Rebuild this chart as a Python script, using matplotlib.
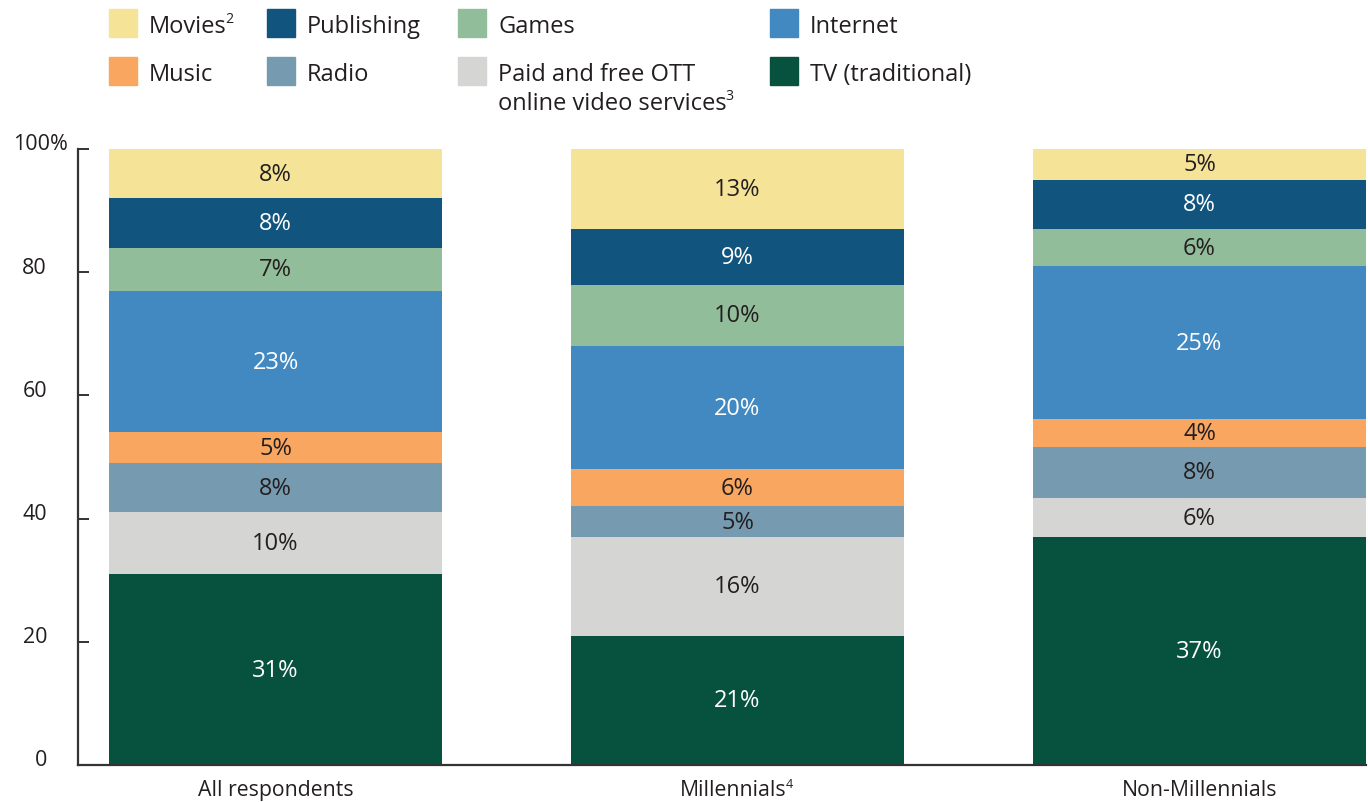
import matplotlib
matplotlib.use("Agg")
import matplotlib.pyplot as plt
from matplotlib.patches import Rectangle
import numpy as np

plt.rcParams['font.family'] = ['Open Sans', 'DejaVu Sans']

groups = ["All respondents", "Millennials", "Non-Millennials"]
group_notes = ["", "4", ""]
segments = ["TV (traditional)", "Paid and free OTT online video services", "Radio", "Music",
            "Internet", "Games", "Publishing", "Movies"]
tv = [31, 21, 37.0]
ott = [10, 16, 6.3]
radio = [8, 5, 8.4]
music = [5, 6, 4.4]
internet = [23, 20, 24.9]
games = [7, 10, 6.0]
publishing = [8, 9, 8.0]
movies = [8, 13, 5.0]
series = [tv, ott, radio, music, internet, games, publishing, movies]

colors = ["#07523F", "#D5D6D3", "#769BB0", "#F8A660", "#4189C0", "#92BD9A", "#11557F", "#F5E498"]
label_colors = ["white", "#231F20", "#231F20", "#231F20", "white", "#231F20", "white", "#231F20"]
dark = "#231F20"

W, H = 1368, 803
fig = plt.figure(figsize=(W / 100, H / 100), dpi=100)
ax = fig.add_axes([78 / W, 37 / H, (1366 - 78) / W, (766 - 150) / H])
renderer = fig.canvas.get_renderer()


def fy(py):
    return 1 - py / H


def text_with_sup(xp, yp, main, sup, size, ha='left'):
    t = fig.text(xp / W, fy(yp), main, ha=ha, va='center', fontsize=size, color=dark)
    if sup:
        bb = t.get_window_extent(renderer=renderer)
        fig.text((bb.x1 - 1.5) / W, fy(yp) + size * 0.42 / H, sup, ha='left', va='center',
                 fontsize=size * 0.6, color=dark)
    return t


x = np.arange(len(groups))
width = 333 / 462
bottom = np.zeros(len(groups))
for vals, c, lc in zip(series, colors, label_colors):
    vals = np.array(vals, dtype=float)
    ax.bar(x, vals, width, bottom=bottom, color=c, edgecolor='none', zorder=2)
    for xi, b, v in zip(x, bottom, vals):
        ax.text(xi, b + v / 2, f"{round(v):d}%", ha='center', va='center',
                fontsize=17, color=lc, zorder=3)
    bottom += vals

ax.set_xlim(-0.4275, 2.3604)
ax.set_ylim(0, 100)
for s in ['top', 'right']:
    ax.spines[s].set_visible(False)
for s in ['left', 'bottom']:
    ax.spines[s].set_color('#333333')
    ax.spines[s].set_linewidth(1.6)

ax.set_xticks(x)
ax.set_xticklabels([])
ax.tick_params(axis='x', length=0)
for xi, g, n in zip(x, groups, group_notes):
    xp = 78 + (xi + 0.4275) * 462
    if n:
        t = fig.text(0, 0, g, fontsize=15.3)
        w = t.get_window_extent(renderer=renderer).width
        t.remove()
        text_with_sup(xp - w / 2 - 4, 791, g, n, 15.3)
    else:
        fig.text(xp / W, fy(791), g, ha='center', va='center', fontsize=15.3, color=dark)

yticks = [0, 20, 40, 60, 80, 100]
ax.set_yticks(yticks)
ax.set_yticklabels([])
ax.tick_params(axis='y', direction='in', length=8, width=1.4, color='#333333')
for t in yticks:
    yp = 766 - t * 6.16 - 5
    if t == 100:
        fig.text(13 / W, fy(yp), "100%", ha='left', va='center', fontsize=15.5, color=dark)
    else:
        fig.text(47 / W, fy(yp), str(t), ha='right', va='center', fontsize=15.5, color=dark)

# Legend
legend_items = [
    ("Movies", "2", "#F5E498", 109, 10),
    ("Publishing", "", "#11557F", 267, 10),
    ("Games", "", "#92BD9A", 458, 10),
    ("Internet", "", "#4189C0", 770, 10),
    ("Music", "", "#F8A660", 109, 58),
    ("Radio", "", "#769BB0", 267, 58),
    ("Paid and free OTT\nonline video services", "3", "#D5D6D3", 458, 58),
    ("TV (traditional)", "", "#07523F", 770, 58),
]
for label, sup, c, px, py in legend_items:
    fig.patches.append(Rectangle((px / W, fy(py + 28)), 28 / W, 28 / H,
                                 transform=fig.transFigure, color=c, figure=fig))
    lines = label.split('\n')
    for i, line in enumerate(lines):
        s = sup if i == len(lines) - 1 else ""
        text_with_sup(px + 40, py + 17 + 29 * i, line, s, 17)

fig.savefig("out.png", dpi=100)
